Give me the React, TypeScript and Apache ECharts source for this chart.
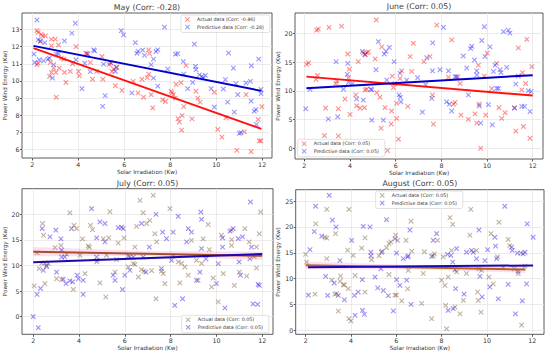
import React, { useEffect, useRef } from 'react';
import * as echarts from 'echarts';

const FONT = '"DejaVu Sans", "Liberation Sans", sans-serif';
const X_ICON = 'path://M0,1.5L1.5,0L5,3.5L8.5,0L10,1.5L6.5,5L10,8.5L8.5,10L5,6.5L1.5,10L0,8.5L3.5,5Z';

const xTicks = [2, 4, 6, 8, 10, 12];
const mayYTicks = [6, 7, 8, 9, 10, 11, 12, 13];
const juneYTicks = [0, 5, 10, 15, 20];
const julyYTicks = [0, 5, 10, 15, 20];
const augYTicks = [0, 5, 10, 15, 20, 25];

const panelTitles = ['May (Corr: -0.28)', 'June (Corr: 0.05)', 'July (Corr: 0.05)', 'August (Corr: 0.05)'];
const actualLabels = ['Actual data (Corr: -0.46)', 'Actual data (Corr: 0.05)', 'Actual data (Corr: 0.05)', 'Actual data (Corr: 0.05)'];
const predictiveLabels = ['Predictive data (Corr: -0.28)', 'Predictive data (Corr: 0.05)', 'Predictive data (Corr: 0.05)', 'Predictive data (Corr: 0.05)'];
const xLabel = 'Solar Irradiation (Kw)';
const yLabel = 'Power Wind Energy (Kw)';

const mayActual = [
  [2.2, 12.94], [2.25, 12.83], [2.39, 12.73], [2.45, 12.63], [2.57, 12.63], [2.35, 12.3], [2.83, 12.44], [3.0, 12.44],
  [3.14, 12.1], [2.83, 12.05], [3.9, 12.0], [2.25, 11.04], [2.2, 10.95], [2.78, 11.08], [2.83, 10.5], [2.93, 10.75],
  [2.75, 10.27], [3.03, 10.5], [3.17, 10.75], [3.26, 11.33], [3.36, 11.27], [3.4, 10.5], [3.46, 9.92], [3.65, 10.56],
  [3.75, 11.0], [4.01, 10.56], [4.04, 10.3], [4.33, 11.62], [4.42, 11.57], [4.52, 11.08], [4.62, 10.1], [4.8, 10.56],
  [5.03, 11.43], [5.07, 10.1], [5.35, 10.95], [5.43, 11.04], [5.46, 10.56], [5.54, 10.69], [5.68, 10.8], [5.61, 9.72],
  [5.9, 9.45], [3.04, 9.05], [6.77, 10.1], [6.84, 9.05], [7.06, 11.82], [6.39, 9.98], [6.6, 9.3], [7.0, 10.2],
  [7.1, 11.6], [7.07, 10.4], [7.17, 9.2], [7.24, 8.43], [7.67, 8.9], [7.79, 8.8], [8.04, 9.4], [8.08, 9.3],
  [8.14, 9.2], [8.23, 9.0], [8.26, 9.8], [8.47, 9.9], [8.34, 7.8], [8.4, 7.6], [8.52, 7.98], [8.5, 7.13],
  [8.59, 8.5], [8.69, 10.9], [8.95, 7.79], [9.12, 9.4], [9.2, 9.0], [9.3, 8.76], [9.92, 9.34], [10.07, 7.17],
  [10.25, 6.72], [10.43, 7.85], [11.23, 7.03], [11.3, 9.2], [10.9, 5.95], [11.52, 5.87], [11.83, 7.75], [11.88, 6.5],
  [11.95, 6.5], [11.99, 8.5],
];
const mayPredictive = [
  [2.2, 13.56], [2.07, 11.57], [2.1, 11.08], [2.25, 12.4], [2.35, 12.34], [2.54, 12.24], [2.3, 11.24], [2.49, 11.18],
  [2.68, 11.27], [2.74, 11.33], [2.93, 10.95], [2.88, 10.17], [3.04, 11.57], [3.14, 11.58], [3.4, 12.34], [3.72, 12.79],
  [3.87, 13.37], [3.9, 11.24], [4.16, 9.55], [4.28, 11.04], [4.38, 11.6], [4.52, 10.54], [4.67, 11.82], [4.71, 11.76],
  [5.1, 10.98], [5.17, 9.14], [5.06, 8.52], [5.39, 11.08], [5.61, 10.56], [5.65, 10.79], [5.87, 12.94], [5.97, 12.69],
  [6.33, 9.3], [6.48, 12.24], [6.55, 11.62], [6.6, 11.73], [6.8, 11.8], [6.88, 11.5], [7.75, 13.14], [9.05, 12.15],
  [7.38, 11.72], [7.46, 11.82], [7.27, 11.28], [7.17, 10.95], [7.27, 10.17], [7.46, 9.7], [7.89, 10.7], [8.23, 11.57],
  [8.33, 11.6], [8.57, 11.14], [8.59, 10.4], [8.76, 9.55], [9.1, 10.85], [9.12, 10.66], [8.98, 9.92], [9.27, 10.36],
  [9.38, 10.27], [9.44, 10.17], [9.53, 10.33], [9.78, 9.55], [9.92, 8.47], [10.4, 10.08], [10.31, 9.53], [10.54, 11.63],
  [10.5, 8.76], [10.75, 10.75], [10.86, 9.84], [10.94, 9.2], [10.79, 8.18], [11.01, 6.94], [11.08, 6.98], [11.3, 9.88],
  [11.49, 9.98], [11.53, 10.89], [11.52, 8.82], [11.66, 8.23], [11.73, 8.33], [11.85, 11.28], [11.95, 9.5], [11.95, 9.26],
  [11.75, 7.46],
];
const mayActualTrend = [[2.05, 11.92], [11.97, 7.2]];
const mayPredictiveTrend = [[2.05, 12.05], [11.97, 9.42]];

const juneActual = [
  [2.1, 14.65], [2.18, 14.9], [2.54, 20.6], [2.61, 20.8], [3.08, 21.1], [3.63, 21.3], [5.15, 22.4], [2.51, 12.0],
  [2.57, 12.7], [2.93, 7.0], [2.88, 2.2], [3.49, 6.9], [3.49, 2.15], [3.42, 11.7], [3.39, 11.3], [3.78, 8.6],
  [4.0, 5.9], [3.9, 16.45], [3.97, 13.8], [3.93, 12.3], [4.36, 15.1], [4.25, 9.3], [4.29, 7.4], [4.44, 7.0],
  [4.63, 7.1], [4.66, 10.2], [4.73, 10.3], [4.58, 16.6], [4.66, 16.3], [4.73, 16.7], [4.8, 16.8], [5.1, 15.6],
  [5.17, 9.7], [5.31, 8.9], [5.39, 17.7], [5.36, 3.5], [5.53, 7.1], [5.64, -0.4], [5.8, 4.24], [5.82, 6.5],
  [5.85, 12.6], [5.9, 10.6], [5.97, 11.3], [6.04, 7.85], [6.04, 5.2], [6.12, 1.6], [6.19, 12.2], [6.26, 13.5],
  [6.53, 7.3], [6.63, 16.0], [6.77, 18.3], [6.7, 13.4], [7.24, 15.1], [7.5, 16.0], [7.61, 9.3], [7.65, 4.2],
  [7.8, 21.5], [8.45, 18.9], [8.31, 12.4], [8.6, 8.0], [8.53, 7.7], [8.72, 12.4], [8.82, 11.3], [8.86, 5.8],
  [9.18, 5.06], [9.47, 6.0], [9.55, 4.4], [9.62, 14.5], [9.65, 7.7], [9.72, 0.0], [9.88, 12.6], [9.94, 5.8],
  [10.01, 16.6], [10.2, 10.4], [10.42, 14.8], [10.52, 7.1], [10.64, 5.2], [10.79, 6.2], [11.2, 7.1], [11.26, 3.0],
  [11.37, 17.5], [11.52, 10.2], [11.55, 13.2], [11.59, 3.8], [11.74, 19.0], [11.69, 11.3], [11.88, 1.75], [11.96, 14.25],
];
const junePredictive = [
  [2.06, 6.9], [2.25, 10.3], [3.05, 5.1], [3.39, 15.1], [3.46, 5.5], [3.71, 10.3], [3.9, 14.8], [3.93, 11.5],
  [3.88, 12.9], [4.1, 11.3], [4.29, 8.6], [4.54, 16.9], [4.58, 8.4], [4.66, 16.4], [4.91, 10.3], [4.95, 4.9],
  [4.95, 10.2], [5.14, 13.7], [5.24, 18.6], [5.5, 16.45], [5.58, 16.9], [5.46, 4.9], [5.72, 17.6], [5.61, 11.9],
  [5.93, 15.1], [6.15, 9.3], [6.2, 8.9], [6.19, 13.1], [6.23, 8.1], [6.48, 11.9], [6.96, 12.3], [7.17, 6.3],
  [7.31, 11.1], [7.36, 15.8], [7.58, 8.7], [7.61, 13.5], [7.62, 18.4], [8.09, 21.1], [7.94, 13.7], [8.23, 8.1],
  [8.31, 13.5], [8.35, 7.7], [8.45, 6.5], [8.6, 12.5], [8.67, 12.5], [8.96, 16.1], [9.11, 14.0], [9.18, 9.3],
  [9.28, 17.4], [9.33, 17.8], [9.45, 15.4], [9.55, 13.5], [9.55, 12.8], [9.72, 4.4], [9.77, 18.8], [9.66, 7.4],
  [9.88, 21.2], [9.91, 16.0], [10.06, 7.6], [10.13, 17.7], [10.23, 4.1], [10.28, 13.4], [10.35, 14.5], [10.42, 10.45],
  [10.5, 10.45], [10.57, 13.7], [10.61, 13.2], [10.72, 20.35], [10.93, 20.6], [11.0, 20.1], [10.86, 14.1], [11.2, 7.0],
  [11.26, 11.2], [11.37, 12.6], [11.52, 7.3], [11.64, 7.3], [11.81, 10.05], [11.88, 6.4], [11.93, 9.9],
];
const juneActualTrend = [[2.09, 12.5], [12.0, 9.2]];
const junePredictiveTrend = [[2.09, 10.47], [12.0, 12.75]];

const julyActual = [
  [2.04, 6.0], [2.17, 12.45], [2.26, 9.4], [2.36, 10.4], [2.41, 18.2], [2.45, 15.9], [2.51, 10.5], [2.51, 6.45],
  [2.58, 10.0], [2.66, 10.4], [2.95, 13.5], [3.02, 7.4], [3.21, 13.9], [3.24, 7.3], [3.46, 12.2], [3.6, 20.3],
  [3.75, 5.3], [3.78, 17.85], [3.89, 17.2], [4.04, 12.0], [4.15, 15.2], [4.26, 8.4], [4.4, 13.8], [4.45, 13.6],
  [4.5, 17.85], [4.59, 17.0], [4.77, 10.7], [4.8, 11.0], [4.91, 6.6], [5.06, 15.2], [5.17, 3.85], [5.2, 12.0],
  [5.35, 20.5], [5.3, 15.4], [5.57, 8.7], [5.64, 11.15], [5.71, 14.4], [5.97, 15.4], [6.15, 9.7], [6.22, 11.7],
  [6.37, 10.35], [6.44, 10.2], [6.44, 13.6], [6.51, 17.65], [6.59, 7.75], [6.66, 22.7], [6.73, 9.2], [6.83, 8.9],
  [6.8, 20.3], [6.95, 18.2], [7.09, 18.8], [7.17, 9.0], [7.24, 23.7], [7.31, 16.2], [7.36, 3.5], [7.39, 14.6],
  [7.6, 8.9], [7.68, 8.4], [7.75, 6.45], [7.97, 21.1], [8.11, 11.8], [8.33, 10.7], [8.48, 10.4], [8.4, 6.6],
  [8.62, 9.7], [8.77, 8.1], [8.91, 14.9], [9.13, 11.0], [9.2, 7.1], [9.35, 10.4], [9.42, 15.2], [9.64, 18.0],
  [9.69, 13.1], [9.79, 5.8], [9.86, 7.55], [10.08, 2.9], [10.22, 15.9], [10.3, 8.4], [10.66, 16.9], [10.66, 13.9],
  [10.66, 15.05], [10.78, 6.1], [11.0, 8.7], [11.24, 17.2], [11.32, 7.9], [11.43, 14.6], [11.65, 11.7], [11.75, 13.6],
  [11.87, 16.2], [11.93, 20.45], [11.75, 9.5],
];
const julyPredictive = [
  [2.0, 0.0], [2.17, 4.35], [2.32, 5.5], [2.39, 17.2], [2.44, 9.05], [2.58, 9.8], [2.22, -2.15], [2.73, 15.6],
  [2.99, 16.9], [3.02, 8.7], [3.21, 15.2], [3.24, 13.0], [3.24, 11.65], [3.38, 11.65], [3.31, 7.3], [3.43, 6.45],
  [3.6, 7.0], [3.67, 17.2], [3.72, 6.8], [3.92, 8.1], [3.97, 7.4], [4.18, 7.1], [4.18, 4.35], [4.55, 21.1],
  [4.77, 11.65], [4.77, 15.4], [4.91, 18.5], [5.13, 18.2], [5.13, 14.6], [5.49, 8.1], [5.57, 7.1], [5.71, 17.4],
  [5.86, 17.5], [5.93, 17.2], [5.9, 5.3], [6.0, 8.1], [6.15, 11.85], [6.37, 11.65], [6.22, 9.05], [6.73, 18.2],
  [6.8, 11.65], [6.92, 8.7], [7.07, 13.6], [7.36, 20.0], [7.6, 9.4], [7.65, 16.5], [7.82, 15.25], [8.04, 11.0],
  [8.11, 16.5], [8.18, 2.2], [8.33, 19.6], [8.52, 3.5], [8.7, 14.6], [8.77, 17.2], [8.91, 16.5], [9.13, 7.1],
  [9.28, 8.7], [9.35, 13.3], [9.32, 20.45], [9.35, 19.0], [9.54, 11.3], [10.0, 6.45], [10.08, 10.35], [10.27, 15.4],
  [10.27, 13.6], [10.37, 1.7], [10.59, 16.7], [10.73, 17.2], [10.95, 15.25], [10.99, 10.7], [11.05, 8.1], [11.14, 15.6],
  [11.49, 22.4], [11.46, 11.3], [11.53, 13.6], [11.6, 2.5], [11.8, 2.4], [11.82, 6.3], [11.87, 6.1],
];
const julyActualTrend = [[2.0, 12.68], [12.0, 11.88]];
const julyPredictiveTrend = [[2.0, 10.65], [12.0, 12.25]];
const julyActualBand = [[2.0, 11.8, 13.6], [7.0, 11.85, 12.85], [12.0, 11.1, 12.7]];

const augActual = [
  [2.0, 14.7], [2.04, 13.2], [2.41, 7.0], [2.44, 20.6], [2.93, 23.4], [2.85, 18.0], [2.93, 17.85], [2.93, 13.85],
  [3.15, 9.7], [3.29, 7.0], [3.37, 7.1], [3.32, 18.7], [3.54, 10.5], [3.52, 9.5], [3.44, 3.7], [3.66, 8.8],
  [3.71, 8.8], [3.91, 23.4], [3.85, 15.5], [3.88, 8.05], [3.91, 2.25], [4.0, 1.8], [4.1, 14.5], [4.18, 10.6],
  [4.47, 15.9], [4.62, 17.9], [4.62, 7.4], [4.91, 13.65], [5.24, 14.4], [5.38, 15.3], [5.57, 16.0], [5.68, 16.8],
  [5.76, 17.1], [5.68, 10.8], [5.94, 6.8], [5.97, 18.4], [6.06, 17.4], [6.01, 6.8], [6.24, 5.7], [6.43, 17.4],
  [6.53, 11.6], [6.5, 8.05], [6.65, 21.1], [6.68, 15.3], [7.12, 5.2], [7.19, 11.0], [7.24, 15.2], [7.56, 2.25],
  [7.63, 14.4], [7.68, 14.8], [7.82, 17.4], [8.0, 9.7], [8.07, 14.2], [8.15, 8.7], [8.18, 4.8], [8.22, 0.3],
  [8.29, 10.3], [8.37, 21.8], [8.49, 20.5], [8.44, 15.45], [8.59, 4.5], [8.66, 11.3], [8.81, 3.2], [8.96, 5.8],
  [9.1, 11.0], [9.25, 18.4], [9.29, 23.4], [9.54, 15.45], [9.59, 7.4], [9.62, 5.8], [9.65, 11.9], [9.74, 3.5],
  [9.76, 11.6], [10.09, 10.3], [10.18, 18.7], [10.28, 9.0], [10.47, 14.2], [10.53, 20.9], [10.72, 12.2], [10.94, 17.6],
  [11.01, 16.4], [11.21, 11.9], [11.38, 10.95], [11.5, 14.95], [11.53, 1.0], [11.68, 12.4],
];
const augPredictive = [
  [2.12, 6.8], [2.19, 15.6], [2.38, 19.1], [2.44, 24.0], [2.71, 18.2], [2.88, 10.45], [2.97, 6.75], [3.04, 26.1],
  [3.18, 21.3], [3.26, 9.15], [3.34, 20.0], [3.44, 6.75], [3.51, 13.5], [3.71, 5.9], [4.03, 17.4], [4.15, 6.75],
  [4.18, 2.9], [4.32, 7.4], [4.5, 9.8], [4.54, 20.1], [4.51, 3.85], [4.59, 3.1], [4.84, 20.0], [4.88, 15.1],
  [4.88, 14.4], [5.06, 10.3], [5.18, 8.2], [5.35, 15.1], [5.32, 11.9], [5.43, 7.7], [5.57, 21.4], [5.65, 6.7],
  [5.87, 3.75], [5.94, 17.7], [6.01, 14.95], [6.01, 9.8], [6.16, 8.7], [6.31, 13.85], [6.5, 14.2], [6.53, 14.4],
  [6.46, 9.7], [6.6, 19.4], [6.65, 5.0], [7.56, 14.3], [7.63, 17.4], [7.78, 18.7], [8.26, 14.7], [8.29, 3.85],
  [8.41, 14.5], [8.49, 13.2], [8.51, 4.2], [8.59, 11.7], [8.62, 8.05], [8.66, 15.8], [8.99, 7.0], [9.1, 15.1],
  [9.32, 15.45], [9.4, 15.1], [9.54, 13.85], [9.65, 19.4], [9.69, 10.45], [9.79, 6.45], [9.91, 13.5], [10.03, 15.6],
  [10.13, 8.4], [10.35, 18.0], [10.38, 16.3], [10.43, 13.85], [10.5, 6.1], [10.79, 24.0], [10.94, 8.9], [11.09, 16.1],
  [11.12, 15.45], [11.26, 3.2], [11.35, 14.95], [11.38, 11.4], [11.56, 5.7], [11.6, 14.8], [11.68, 15.1], [11.75, 9.0],
  [11.78, 20.6], [12.04, 18.0],
];
const augActualTrend = [[2.0, 12.57], [11.7, 11.75]];
const augPredictiveTrend = [[2.1, 12.22], [12.04, 12.55]];
const augActualBand = [[2.0, 11.8, 13.3], [7.0, 11.8, 12.6], [11.7, 11.1, 12.5]];

const panels = [
  {
    key: 'may', grid: { left: 22, top: 13, width: 250, height: 145 }, titleY: 7,
    xMin: 1.55, xMax: 12.43, yMin: 5.5, yMax: 13.97, yTicks: mayYTicks,
    actual: mayActual, predictive: mayPredictive, actualTrend: mayActualTrend, predictiveTrend: mayPredictiveTrend, band: null,
    actualColor: 'rgba(255,0,0,0.55)', predictiveColor: 'rgba(0,0,255,0.5)', actualLine: '#ff1010', predictiveLine: '#0000c8',
    legend: { left: 181, top: 15 },
  },
  {
    key: 'june', grid: { left: 295, top: 13, width: 248, height: 146 }, titleY: 6.7,
    xMin: 1.59, xMax: 12.45, yMin: -1.87, yMax: 23.6, yTicks: juneYTicks,
    actual: juneActual, predictive: junePredictive, actualTrend: juneActualTrend, predictiveTrend: junePredictiveTrend, band: null,
    actualColor: 'rgba(255,0,0,0.55)', predictiveColor: 'rgba(0,0,255,0.5)', actualLine: '#ff1010', predictiveLine: '#0000c8',
    legend: { left: 297.7, top: 139.3 },
  },
  {
    key: 'july', grid: { left: 22, top: 188.7, width: 251, height: 145.6 }, titleY: 183.3,
    xMin: 1.51, xMax: 12.47, yMin: -3.45, yMax: 25.0, yTicks: julyYTicks,
    actual: julyActual, predictive: julyPredictive, actualTrend: julyActualTrend, predictiveTrend: julyPredictiveTrend, band: julyActualBand,
    actualColor: 'rgba(120,80,40,0.55)', predictiveColor: 'rgba(60,20,230,0.6)', actualLine: '#a0522d', predictiveLine: '#1a08b0',
    legend: { left: 181.7, top: 315.3 },
  },
  {
    key: 'aug', grid: { left: 295.7, top: 189.7, width: 248.3, height: 144.6 }, titleY: 183.3,
    xMin: 1.56, xMax: 12.52, yMin: -0.77, yMax: 27.2, yTicks: augYTicks,
    actual: augActual, predictive: augPredictive, actualTrend: augActualTrend, predictiveTrend: augPredictiveTrend, band: augActualBand,
    actualColor: 'rgba(120,80,40,0.55)', predictiveColor: 'rgba(60,20,230,0.6)', actualLine: '#b5651d', predictiveLine: '#1a08b0',
    legend: { left: 375.7, top: 191 },
  },
];

function buildOption() {
  const grid: any[] = [];
  const xAxis: any[] = [];
  const yAxis: any[] = [];
  const series: any[] = [];
  const legend: any[] = [];
  const graphic: any[] = [];
  const labelMap: Record<string, string> = {};

  panels.forEach((p, i) => {
    grid.push({ ...p.grid, show: true, backgroundColor: '#ffffff', borderColor: '#333333', borderWidth: 0.8, containLabel: false });
    xAxis.push({
      type: 'value', gridIndex: i, min: p.xMin, max: p.xMax,
      splitLine: { show: false },
      axisLine: { show: false, onZero: false },
      axisTick: { show: true, customValues: xTicks, length: 2.5, lineStyle: { color: '#333', width: 0.8 } },
      axisLabel: { customValues: xTicks, fontSize: 6.3, color: '#333', margin: 3, fontFamily: FONT },
      name: xLabel, nameLocation: 'middle', nameGap: 11,
      nameTextStyle: { fontSize: 5.7, color: '#333', fontFamily: FONT },
    });
    yAxis.push({
      type: 'value', gridIndex: i, min: p.yMin, max: p.yMax,
      splitLine: { show: false },
      axisLine: { show: false, onZero: false },
      axisTick: { show: true, customValues: p.yTicks, length: 2, lineStyle: { color: '#333', width: 0.8 } },
      axisLabel: { customValues: p.yTicks, fontSize: 6.3, color: '#333', margin: 2.5, fontFamily: FONT },
      name: yLabel, nameLocation: 'middle', nameGap: 13,
      nameTextStyle: { fontSize: 5.7, color: '#333', fontFamily: FONT },
    });

    const aName = p.key + '_actual';
    const pName = p.key + '_predictive';
    labelMap[aName] = actualLabels[i];
    labelMap[pName] = predictiveLabels[i];

    if (p.band) {
      const band = p.band;
      series.push({
        type: 'custom', xAxisIndex: i, yAxisIndex: i, silent: true, z: 1,
        data: band.map((b) => [b[0], b[1], b[2]]),
        encode: { x: 0, y: [1, 2] },
        renderItem: (params: any, api: any) => {
          if (params.dataIndex !== 0) return null;
          const upper = band.map((b) => api.coord([b[0], b[2]]));
          const lower = band.slice().reverse().map((b) => api.coord([b[0], b[1]]));
          return { type: 'polygon', shape: { points: upper.concat(lower) }, style: { fill: 'rgba(255,105,180,0.22)' } };
        },
      });
    }

    series.push({
      name: aName, type: 'scatter', xAxisIndex: i, yAxisIndex: i, z: 2,
      data: p.actual, symbol: X_ICON, symbolSize: 5.3,
      itemStyle: { color: p.actualColor },
      markLine: {
        silent: true, symbol: 'none', z: 0, animation: false,
        label: { show: false },
        lineStyle: { color: '#e6e6e6', width: 0.8, type: 'solid' },
        emphasis: { disabled: true },
        data: [...xTicks.map((v) => ({ xAxis: v })), ...p.yTicks.map((v) => ({ yAxis: v }))],
      },
    });
    series.push({
      name: pName, type: 'scatter', xAxisIndex: i, yAxisIndex: i, z: 2,
      data: p.predictive, symbol: X_ICON, symbolSize: 5.3,
      itemStyle: { color: p.predictiveColor },
    });
    series.push({
      type: 'line', xAxisIndex: i, yAxisIndex: i, z: 3, silent: true,
      data: p.actualTrend, symbol: 'none', lineStyle: { color: p.actualLine, width: 2 },
    });
    series.push({
      type: 'line', xAxisIndex: i, yAxisIndex: i, z: 4, silent: true,
      data: p.predictiveTrend, symbol: 'none', lineStyle: { color: p.predictiveLine, width: 2 },
    });

    legend.push({
      orient: 'vertical', left: p.legend.left, top: p.legend.top,
      itemWidth: 5, itemHeight: 5, itemGap: 1.5,
      padding: [1.5, 6, 2.5, 4],
      backgroundColor: 'rgba(255,255,255,0.85)', borderColor: '#cccccc', borderWidth: 0.6, borderRadius: 2,
      icon: X_ICON, selectedMode: false,
      data: [aName, pName],
      formatter: (name: string) => labelMap[name],
      textStyle: { fontSize: 4.8, color: '#333', fontFamily: FONT, lineHeight: 6, padding: [0, 0, 0, 2] },
    });

    graphic.push({
      type: 'text', x: p.grid.left + p.grid.width / 2, y: p.titleY,
      style: { text: panelTitles[i], font: `normal 400 7.8px ${FONT}`, fill: '#404040', textAlign: 'center', textVerticalAlign: 'middle' },
    });
  });

  return { animation: false, backgroundColor: '#ffffff', grid, xAxis, yAxis, series, legend, graphic };
}

export default function App() {
  const ref = useRef<HTMLDivElement>(null);
  useEffect(() => {
    if (!ref.current) return;
    const chart = echarts.init(ref.current, null, { renderer: 'svg' });
    chart.setOption(buildOption() as any);
    return () => chart.dispose();
  }, []);
  return <div ref={ref} style={{ position: 'fixed', left: 0, top: 0, width: 550, height: 354 }} />;
}
